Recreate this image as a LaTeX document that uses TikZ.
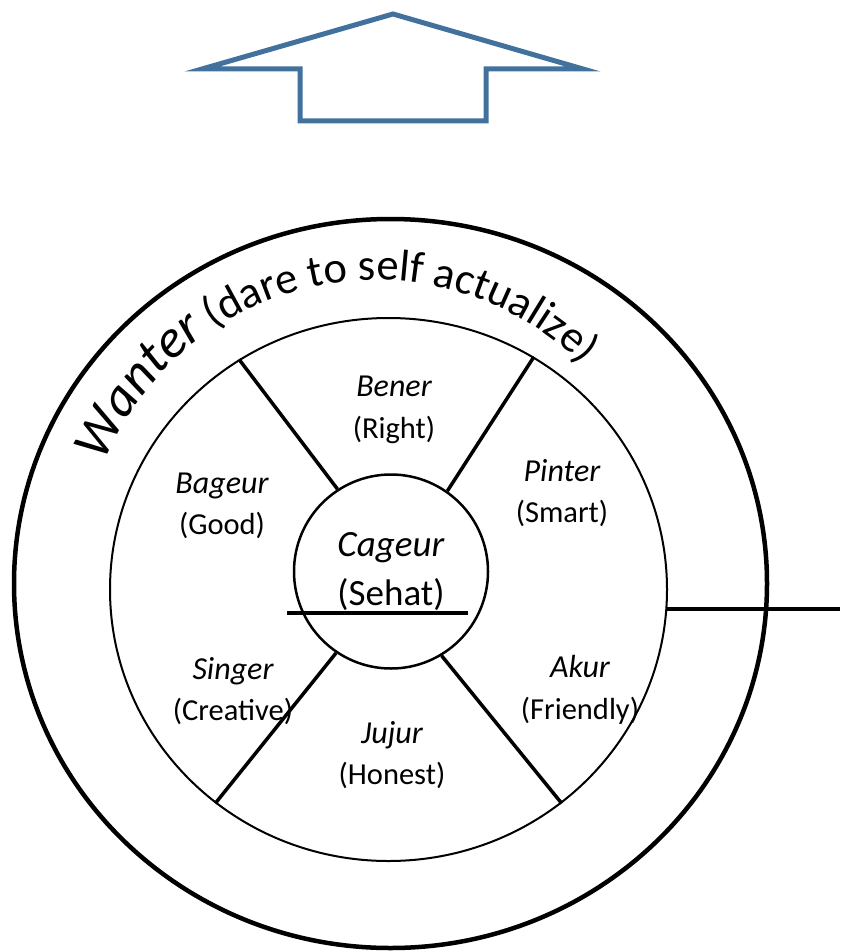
\documentclass[tikz,border=0pt]{standalone}
\usepackage{fontspec}
\setmainfont{Carlito}
\usepackage{tikz}
\usepackage{xcolor}
\usetikzlibrary{shapes}
\usetikzlibrary{decorations.text}
\usetikzlibrary{positioning, arrows.meta}

\definecolor{arrowblue}{RGB}{65,113,156}

\begin{document}
\begin{tikzpicture}[x=1pt, y=1pt, >=stealth, % Arrow tip style
                    trait/.style={align=center, font=\fontsize{30.5}{41.5}\selectfont},
                    spoke/.style={line width=3.5pt}]
                        % Page size
                        \useasboundingbox (0,0) rectangle (840,-952);

                        % Blue arrow pointing up
                        \draw[arrowblue, line width=5pt, line join=miter] (393,-14) -- (583,-69) -- (486,-69) -- (486,-121) -- (300,-121) -- (300,-69) -- (202,-69) -- cycle;

                        % Outer ring, inner ring and the centre circle
                        \node[draw, ellipse, line width=4.5pt, inner sep=0pt, minimum width=753pt, minimum height=729pt] (wanter) at (390.5,-583.5) {};
                        \node[draw, ellipse, line width=2pt, inner sep=0pt, minimum width=557pt, minimum height=543pt] (ring) at (388.5,-589.5) {};
                        \node[draw, circle, line width=2.5pt, inner sep=0pt, minimum size=194pt, align=center, font=\fontsize{37}{49}\selectfont] (cageur) at (391,-571.5) {\textit{Cageur}\\(Sehat)};

                        % Spokes between the rings
                        \draw[spoke] (ring.123) -- (cageur.123);
                        \draw[spoke] (ring.58) -- (cageur.55);
                        \draw[spoke] (ring.231) -- (cageur.236);
                        \draw[spoke] (ring.309) -- (cageur.301);

                        % Cut line in the centre and line to the right
                        \coordinate (cutL) at (287,-613);
                        \coordinate (cutR) at (468,-613);
                        \coordinate (rightend) at (840,-612);
                        \draw[spoke] (cutL) -- (cutR);
                        \draw[spoke] (ring.-4.7) -- (ring.-4.7 -| rightend);

                        % Sector labels
                        \node[trait] (bener) at (394,-410) {{\fontsize{32}{41.5}\selectfont\itshape Bener}\\(Right)};
                        \node[trait] (pinter) at (562,-493) {{\fontsize{32}{41.5}\selectfont\itshape Pinter}\\(Smart)};
                        \node[trait] (bageur) at (222,-506) {{\fontsize{32}{41.5}\selectfont\itshape Bageur}\\(Good)};
                        \node[trait] (singer) at (233,-691) {{\fontsize{32}{41.5}\selectfont\itshape Singer}\\(Creative)};
                        \node[trait] (akur) at (580,-690) {{\fontsize{32}{41.5}\selectfont\itshape Akur}\\(Friendly)};
                        \node[trait] (jujur) at (392,-755) {{\fontsize{32}{41.5}\selectfont\itshape Jujur}\\(Honest)};

                        % Curved title in the outer ring
                        \coordinate (arcc) at (376,-573);
                        \path[decorate, decoration={text along path, text align=left,
                              text={|\itshape\fontsize{54}{60}\selectfont|Wanter|\upshape\fontsize{44.5}{50}\selectfont| (dare to self actualize)}}]
                              ([shift={(158:293)}]arcc) arc[start angle=158, end angle=35, radius=293];

                    \end{tikzpicture}
\end{document}
